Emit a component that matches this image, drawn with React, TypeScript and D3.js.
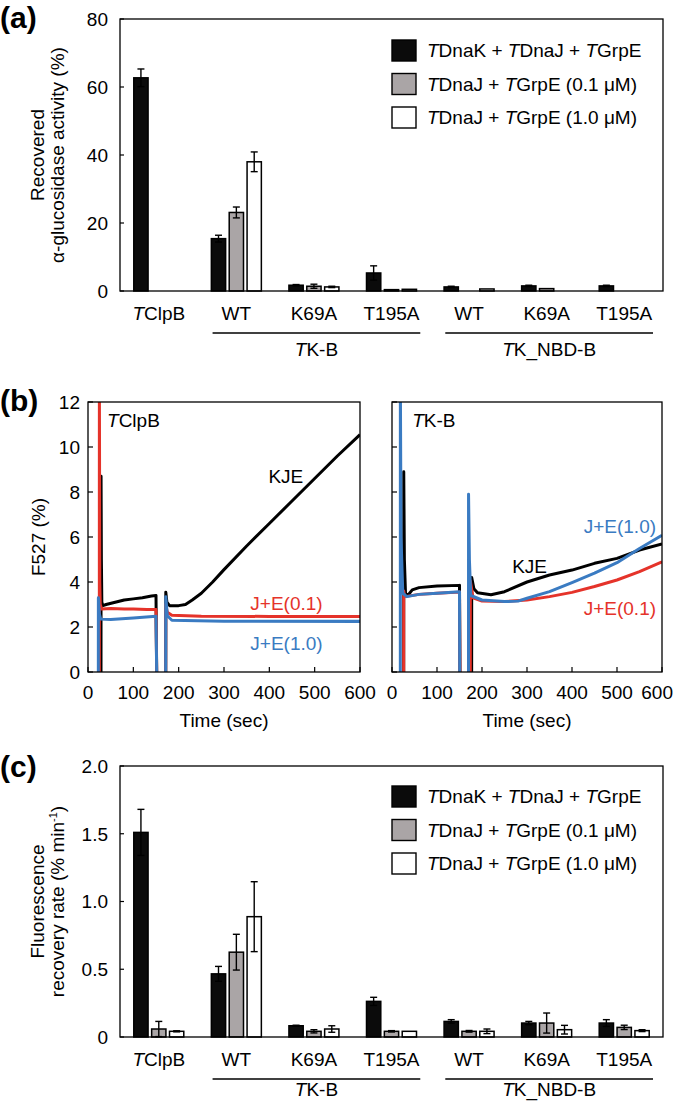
import React from 'react';
import * as d3 from 'd3';

const FONT = '"Liberation Sans", Arial, Helvetica, sans-serif';
const FS = 19;

// ---------- shared categories ----------
const categories = ['*T*ClpB', 'WT', 'K69A', 'T195A', 'WT', 'K69A', 'T195A'];
const groups = [
  { label: '*T*K-B', from: 1, to: 3 },
  { label: '*T*K_NBD-B', from: 4, to: 6 },
];
const legendLabels = [
  '*T*DnaK + *T*DnaJ + *T*GrpE',
  '*T*DnaJ + *T*GrpE (0.1 μM)',
  '*T*DnaJ + *T*GrpE (1.0 μM)',
];
const barFills = ['#0b0b0b', '#aaa5a6', '#ffffff'];

// ---------- panel (a): recovered activity (%) ----------
const activityKJE = [62.7, 15.4, 1.7, 5.3, 1.2, 1.5, 1.5];
const activityKJEErr = [2.6, 1.0, 0.2, 2.1, 0.2, 0.2, 0.2];
const activityJE01 = [0, 23.1, 1.4, 0.4, 0, 0.7, 0];
const activityJE01Err = [0, 1.6, 0.6, 0, 0, 0, 0];
const activityJE10 = [0, 38.0, 1.2, 0.5, 0.6, 0, 0];
const activityJE10Err = [0, 2.9, 0.2, 0, 0, 0, 0];
const activityTicks = [0, 20, 40, 60, 80];

// ---------- panel (c): fluorescence recovery rate ----------
const rateKJE = [1.51, 0.466, 0.083, 0.263, 0.115, 0.103, 0.103];
const rateKJEErr = [0.17, 0.055, 0.004, 0.03, 0.013, 0.012, 0.025];
const rateJE01 = [0.059, 0.626, 0.042, 0.042, 0.042, 0.103, 0.071];
const rateJE01Err = [0.056, 0.132, 0.012, 0.005, 0.006, 0.074, 0.016];
const rateJE10 = [0.042, 0.888, 0.059, 0.042, 0.042, 0.054, 0.047];
const rateJE10Err = [0.004, 0.258, 0.024, 0, 0.017, 0.032, 0.007];
const rateTicks = [0, 0.5, 1.0, 1.5, 2.0];
const rateTickLabels = ['0', '0.5', '1.0', '1.5', '2.0'];

// ---------- panel (b): F527 traces [time (s), F527 (%)] ----------
const clpbKJE: [number, number][] = [
  [28.7, 0], [28.8, 8.7], [29.5, 5], [30.5, 3.1], [33, 2.95], [40, 3.0], [60, 3.1], [80, 3.2],
  [100, 3.25], [120, 3.3], [140, 3.38], [150, 3.4], [151.5, 0], [NaN, NaN],
  [171.4, 0], [171.6, 3.55], [174, 3.1], [180, 2.95], [200, 2.95], [215, 3.0], [230, 3.2],
  [250, 3.5], [275, 4.0], [300, 4.55], [350, 5.6], [400, 6.6], [450, 7.6], [500, 8.6],
  [550, 9.6], [600, 10.55],
];
const clpbJE01: [number, number][] = [
  [25, 0], [25.1, 13], [26, 4], [27, 3.0], [30, 2.8], [50, 2.82], [80, 2.8], [100, 2.8],
  [130, 2.78], [150, 2.78], [151.5, 0], [NaN, NaN],
  [171.4, 0], [171.6, 3.0], [175, 2.65], [185, 2.52], [250, 2.48], [400, 2.47], [600, 2.47],
];
const clpbJE10: [number, number][] = [
  [22.8, 0], [22.9, 3.3], [25, 2.6], [28, 2.35], [50, 2.33], [100, 2.4], [150, 2.48],
  [151.5, 0], [NaN, NaN],
  [171.4, 0], [171.6, 3.35], [175, 2.5], [185, 2.3], [300, 2.26], [600, 2.25],
];
const tkbKJE: [number, number][] = [
  [26, 0], [26.1, 8.9], [27.5, 5], [30, 3.5], [35, 3.4], [45, 3.65], [60, 3.75], [100, 3.82],
  [150, 3.85], [151, 0], [NaN, NaN],
  [177, 0], [177.1, 4.2], [182, 3.7], [190, 3.52], [220, 3.43], [250, 3.57], [300, 4.0],
  [350, 4.31], [400, 4.53], [450, 4.83], [500, 5.05], [550, 5.42], [600, 5.69],
];
const tkbJE01: [number, number][] = [
  [26, 0], [26.1, 3.6], [28, 3.35], [60, 3.45], [100, 3.5], [150, 3.55], [151, 0], [NaN, NaN],
  [174, 0], [174.1, 4.05], [180, 3.3], [200, 3.15], [250, 3.13], [300, 3.2], [350, 3.35],
  [400, 3.54], [450, 3.8], [500, 4.09], [550, 4.46], [600, 4.9],
];
const tkbJE10: [number, number][] = [
  [18.5, 0], [18.6, 13], [20, 6], [24, 3.5], [33, 3.35], [60, 3.45], [100, 3.5], [150, 3.57],
  [150.5, 0], [NaN, NaN],
  [170, 0], [170.1, 7.9], [172, 5], [175, 3.4], [200, 3.2], [250, 3.13], [280, 3.15],
  [300, 3.28], [350, 3.57], [400, 3.97], [450, 4.39], [500, 4.86], [550, 5.49], [600, 6.08],
];
const timeTicks = [0, 100, 200, 300, 400, 500, 600];
const f527Ticks = [0, 2, 4, 6, 8, 10, 12];

const RED = '#e5332a';
const BLUE = '#3a7bc2';

function Rich({ text }: { text: string }) {
  const parts = text.split('*');
  return (
    <>
      {parts.map((p, i) =>
        p === '' ? null : (
          <tspan key={i} fontStyle={i % 2 === 1 ? 'italic' : 'normal'}>
            {p}
          </tspan>
        )
      )}
    </>
  );
}

type BarProps = {
  top: number;
  bottom: number;
  yMax: number;
  ticks: number[];
  tickLabels: string[];
  values: number[][];
  errors: number[][];
  legendTop: number;
  label: string;
  labelY: number;
  groupLabelY: number;
  title: React.ReactNode[];
};

function BarPanel(p: BarProps) {
  const left = 120;
  const right = 663;
  const x = d3.scaleBand<number>().domain(d3.range(categories.length)).range([left, right]).padding(0);
  const xs = d3.scaleBand<number>().domain([0, 1, 2]).range([-25, 25]).paddingInner(0.2);
  const y = d3.scaleLinear().domain([0, p.yMax]).range([p.bottom, p.top]);
  const bw = xs.bandwidth();
  const cy = (p.top + p.bottom) / 2;
  return (
    <g>
      <text x={0} y={p.labelY} fontSize={30} fontWeight="bold">{p.label}</text>
      {p.title.map((t, i) => (
        <text key={i} transform={`translate(${44 + i * 20},${cy}) rotate(-90)`} textAnchor="middle" fontSize={FS}>
          {t}
        </text>
      ))}
      {p.ticks.map((t, i) => (
        <g key={i}>
          <line x1={left} x2={left + 4} y1={y(t)} y2={y(t)} stroke="#000" strokeWidth={1.2} />
          <text x={left - 12} y={y(t) + 6.8} textAnchor="end" fontSize={FS}>{p.tickLabels[i]}</text>
        </g>
      ))}
      {categories.map((c, ci) => {
        const cx = x(ci)! + x.bandwidth() / 2;
        return (
          <g key={ci}>
            {p.values.map((vals, si) => {
              const v = vals[ci];
              if (!v) return null;
              const bx = cx + xs(si)!;
              const e = p.errors[si][ci];
              return (
                <g key={si}>
                  <rect x={bx} y={y(v)} width={bw} height={y(0) - y(v)} fill={barFills[si]} stroke="#000" strokeWidth={1.5} />
                  {e > 0 && (
                    <g stroke="#000" strokeWidth={1.4}>
                      <line x1={bx + bw / 2} x2={bx + bw / 2} y1={y(Math.max(0, v - e))} y2={y(v + e)} />
                      <line x1={bx + bw / 2 - 3.5} x2={bx + bw / 2 + 3.5} y1={y(v + e)} y2={y(v + e)} />
                      {v - e > 0 && (
                        <line x1={bx + bw / 2 - 3.5} x2={bx + bw / 2 + 3.5} y1={y(v - e)} y2={y(v - e)} />
                      )}
                    </g>
                  )}
                </g>
              );
            })}
            <text x={cx} y={p.bottom + 29} textAnchor="middle" fontSize={FS}>
              <Rich text={c} />
            </text>
          </g>
        );
      })}
      {groups.map((g, gi) => {
        const x1 = x(g.from)! + 15;
        const x2 = x(g.to)! + x.bandwidth() - 10;
        return (
          <g key={gi}>
            <line x1={x1} x2={x2} y1={p.bottom + 42} y2={p.bottom + 42} stroke="#000" strokeWidth={1.3} />
            <text x={(x1 + x2) / 2} y={p.groupLabelY} textAnchor="middle" fontSize={FS}>
              <Rich text={g.label} />
            </text>
          </g>
        );
      })}
      <rect x={left} y={p.top} width={right - left} height={p.bottom - p.top} fill="none" stroke="#000" strokeWidth={1.3} />
      {legendLabels.map((l, i) => {
        const ly = p.legendTop + i * 33.5;
        return (
          <g key={i}>
            <rect x={392} y={ly} width={24} height={21} fill={barFills[i]} stroke="#000" strokeWidth={1.4} />
            <text x={427} y={ly + 17} fontSize={FS}>
              <Rich text={l} />
            </text>
          </g>
        );
      })}
    </g>
  );
}

type Series = { data: [number, number][]; color: string };

function TracePlot({ left, right, top, bottom, series, showYLabels, id, children }: {
  left: number; right: number; top: number; bottom: number; series: Series[]; showYLabels: boolean; id: string;
  children?: (x: d3.ScaleLinear<number, number>, y: d3.ScaleLinear<number, number>) => React.ReactNode;
}) {
  const x = d3.scaleLinear().domain([0, 600]).range([left, right]);
  const y = d3.scaleLinear().domain([0, 12]).range([bottom, top]);
  const line = d3
    .line<[number, number]>()
    .defined((d) => !isNaN(d[0]))
    .x((d) => x(d[0]))
    .y((d) => y(d[1]));
  return (
    <g>
      <defs>
        <clipPath id={id}>
          <rect x={left} y={top} width={right - left} height={bottom - top} />
        </clipPath>
      </defs>
      <g clipPath={`url(#${id})`}>
        {series.map((s, i) => (
          <path key={i} d={line(s.data) || ''} fill="none" stroke={s.color} strokeWidth={3} strokeLinejoin="round" />
        ))}
      </g>
      {f527Ticks.map((t) => (
        <g key={t}>
          <line x1={left} x2={left + 5} y1={y(t)} y2={y(t)} stroke="#000" strokeWidth={1.2} />
          {showYLabels && (
            <text x={left - 8} y={y(t) + 6.8} textAnchor="end" fontSize={FS}>{t}</text>
          )}
        </g>
      ))}
      {timeTicks.map((t, i) => {
        const last = i === timeTicks.length - 1 && x(t) > 640;
        return (
          <g key={t}>
            <line x1={x(t)} x2={x(t)} y1={bottom} y2={bottom - 5} stroke="#000" strokeWidth={1.2} />
            <text x={last ? 673 : x(t)} y={bottom + 27} textAnchor={last ? 'end' : 'middle'} fontSize={FS}>{t}</text>
          </g>
        );
      })}
      <text x={(left + right) / 2} y={bottom + 55} textAnchor="middle" fontSize={FS}>Time (sec)</text>
      <rect x={left} y={top} width={right - left} height={bottom - top} fill="none" stroke="#000" strokeWidth={1.3} />
      {children && children(x, y)}
    </g>
  );
}

export default function App() {
  const bTop = 402;
  const bBottom = 672;
  return (
    <svg
      width={675}
      height={1106}
      viewBox="0 0 675 1106"
      style={{ position: 'absolute', left: 0, top: 0, display: 'block', background: '#fff' }}
      fontFamily={FONT}
    >
      <rect x={0} y={0} width={675} height={1106} fill="#fff" />
      <BarPanel
        top={19}
        bottom={291}
        yMax={80}
        ticks={activityTicks}
        tickLabels={activityTicks.map(String)}
        values={[activityKJE, activityJE01, activityJE10]}
        errors={[activityKJEErr, activityJE01Err, activityJE10Err]}
        legendTop={40}
        label="(a)"
        labelY={28}
        groupLabelY={356}
        title={['Recovered', 'α-glucosidase activity (%)']}
      />

      {/* panel (b) */}
      <text x={0} y={411} fontSize={30} fontWeight="bold">(b)</text>
      <text transform={`translate(45,${(bTop + bBottom) / 2}) rotate(-90)`} textAnchor="middle" fontSize={FS}>
        F527 (%)
      </text>
      <TracePlot
        id="clipL"
        left={88}
        right={360}
        top={bTop}
        bottom={bBottom}
        showYLabels={true}
        series={[
          { data: clpbKJE, color: '#000' },
          { data: clpbJE01, color: RED },
          { data: clpbJE10, color: BLUE },
        ]}
      >
        {(x, y) => (
          <g fontSize={FS}>
            <text x={x(42)} y={y(10.9)}><Rich text="*T*ClpB" /></text>
            <text x={x(398)} y={y(8.4)}>KJE</text>
            <text x={x(358)} y={y(2.75)} fill={RED}>J+E(0.1)</text>
            <text x={x(358)} y={y(1.0)} fill={BLUE}>J+E(1.0)</text>
          </g>
        )}
      </TracePlot>
      <TracePlot
        id="clipR"
        left={392}
        right={662}
        top={bTop}
        bottom={bBottom}
        showYLabels={false}
        series={[
          { data: tkbKJE, color: '#000' },
          { data: tkbJE01, color: RED },
          { data: tkbJE10, color: BLUE },
        ]}
      >
        {(x, y) => (
          <g fontSize={FS}>
            <text x={x(45)} y={y(10.9)}><Rich text="*T*K-B" /></text>
            <text x={x(267)} y={y(4.40)}>KJE</text>
            <text x={x(426)} y={y(6.2)} fill={BLUE}>J+E(1.0)</text>
            <text x={x(426)} y={y(2.55)} fill={RED}>J+E(0.1)</text>
          </g>
        )}
      </TracePlot>

      <BarPanel
        top={766}
        bottom={1037}
        yMax={2.0}
        ticks={rateTicks}
        tickLabels={rateTickLabels}
        values={[rateKJE, rateJE01, rateJE10]}
        errors={[rateKJEErr, rateJE01Err, rateJE10Err]}
        legendTop={786}
        label="(c)"
        labelY={777}
        groupLabelY={1096}
        title={[
          'Fluorescence',
          <>
            recovery rate (% min<tspan dy={-7} fontSize={11}>-1</tspan>
            <tspan dy={7}>)</tspan>
          </>,
        ]}
      />
    </svg>
  );
}
